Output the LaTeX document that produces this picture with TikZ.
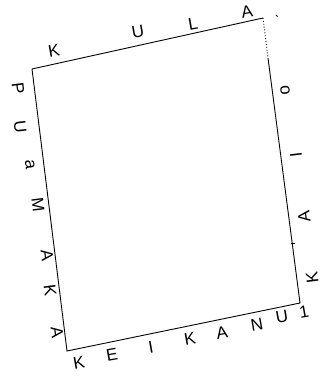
\documentclass[tikz,border=0pt]{standalone}
\usepackage{fontspec}
\setmainfont{Liberation Sans}
\usetikzlibrary{calc}

\begin{document}
\begin{tikzpicture}[x=1pt,y=-1pt,
  lbl/.style={font=\fontsize{17}{17}\selectfont,inner sep=0pt},
  edge/.style={line width=0.9pt}]
  \useasboundingbox (0,0) rectangle (324,377);

  % corners of the plot
  \coordinate (nw) at (32,69);
  \coordinate (ne) at (263,18);
  \coordinate (se) at (300,303);
  \coordinate (sw) at (67,351);
  \coordinate (nedot) at (268,58);

  \draw[edge] (nw) -- (ne);
  \draw[edge,dotted] (ne) -- (nedot);
  \draw[edge] (nedot) -- (se) -- (sw) -- (nw);

  % top side
  \foreach \t/\x/\y [count=\i] in {K/54/51, U/138/32, L/193/24, A/247/12}
    \node[lbl,rotate=10] (top\i) at (\x,\y) {\t};
  % right side
  \foreach \t/\x/\y [count=\i] in {o/285/90, I/296/155, A/304/217, K/312/278}
    \node[lbl,rotate=97] (rgt\i) at (\x,\y) {\t};
  % bottom side
  \foreach \t/\x/\y [count=\i] in {K/79/363, E/112/355, I/151/347, K/190/339,
      A/222/333, N/257/325, U/282/317, 1/304/312}
    \node[lbl,rotate=10] (bot\i) at (\x,\y) {\t};
  % left side
  \foreach \t/\x/\y [count=\i] in {P/18/88, U/20/127, a/30/165, M/38/205,
      A/47/255, K/50/290, A/57/332}
    \node[lbl,rotate=-83] (lft\i) at (\x,\y) {\t};

  % stray marks
  \coordinate (mk) at (276,15);
  \draw[line width=0.8pt] (mk) -- ++(1.5,1.5);
  \coordinate (tick) at (291,243);
  \draw[line width=0.8pt] (tick) -- ++(4,0);
\end{tikzpicture}
\end{document}
